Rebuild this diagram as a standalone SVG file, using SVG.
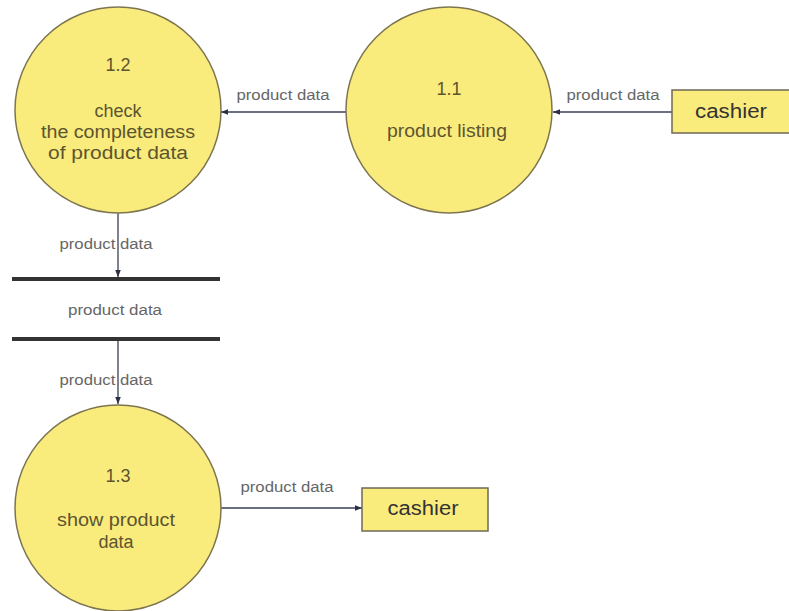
<svg xmlns="http://www.w3.org/2000/svg" width="789" height="611" viewBox="0 0 789 611">
<style>
.proc{fill:#faeb7d;stroke:#7d7550;stroke-width:1.5}
.ent{fill:#faeb7d;stroke:#6e6a55;stroke-width:1.5}
.nt{font-family:"Liberation Sans",Arial,sans-serif;font-size:18px;fill:#5c5530;text-anchor:middle}
.et{font-family:"Liberation Sans",Arial,sans-serif;font-size:20px;fill:#333;text-anchor:middle}
.lb{font-family:"Liberation Sans",Arial,sans-serif;font-size:14px;fill:#666;text-anchor:middle}
.cn{stroke:#3a3f55;stroke-width:1.3;fill:none}
.store{stroke:#333;stroke-width:4}
</style>
<defs>
<marker id="ah" viewBox="0 0 10 10" refX="10" refY="5" markerWidth="7" markerHeight="7" orient="auto" markerUnits="userSpaceOnUse">
<path d="M0,1 L10,5 L0,9 Z" fill="#2a2f45"/>
</marker>
</defs>
<rect width="789" height="611" fill="#fff"/>
<g id="connectors">
<line class="cn" x1="672" y1="112" x2="553" y2="112" marker-end="url(#ah)"/>
<text class="lb" x="613" y="100" textLength="93" lengthAdjust="spacingAndGlyphs">product data</text>
<line class="cn" x1="346" y1="112" x2="221" y2="112" marker-end="url(#ah)"/>
<text class="lb" x="283" y="100" textLength="93" lengthAdjust="spacingAndGlyphs">product data</text>
<line class="cn" x1="118" y1="213" x2="118" y2="277" marker-end="url(#ah)"/>
<text class="lb" x="106" y="249" textLength="93" lengthAdjust="spacingAndGlyphs">product data</text>
<line class="cn" x1="118" y1="341" x2="118" y2="404" marker-end="url(#ah)"/>
<text class="lb" x="106" y="385" textLength="93" lengthAdjust="spacingAndGlyphs">product data</text>
<line class="cn" x1="221" y1="508" x2="362" y2="508" marker-end="url(#ah)"/>
<text class="lb" x="287" y="492" textLength="93" lengthAdjust="spacingAndGlyphs">product data</text>
</g>
<g id="p1_2">
<circle class="proc" cx="118" cy="110" r="103"/>
<text class="nt" x="118" y="71">1.2</text>
<text class="nt" x="118" y="117">check</text>
<text class="nt" x="118" y="138" textLength="154" lengthAdjust="spacingAndGlyphs">the completeness</text>
<text class="nt" x="118" y="159" textLength="140" lengthAdjust="spacingAndGlyphs">of product data</text>
</g>
<g id="p1_1">
<circle class="proc" cx="449" cy="110" r="103"/>
<text class="nt" x="449" y="95">1.1</text>
<text class="nt" x="447" y="137" textLength="120" lengthAdjust="spacingAndGlyphs">product listing</text>
</g>
<g id="cashier1">
<rect class="ent" x="672" y="90" width="122" height="43"/>
<text class="et" x="731" y="118" textLength="72" lengthAdjust="spacingAndGlyphs">cashier</text>
</g>
<g id="store">
<line class="store" x1="12" y1="279" x2="220" y2="279"/>
<line class="store" x1="12" y1="339" x2="220" y2="339"/>
<text class="lb" x="115" y="315" textLength="94" lengthAdjust="spacingAndGlyphs">product data</text>
</g>
<g id="p1_3">
<circle class="proc" cx="118" cy="508" r="103"/>
<text class="nt" x="118" y="482">1.3</text>
<text class="nt" x="116" y="526" textLength="118" lengthAdjust="spacingAndGlyphs">show product</text>
<text class="nt" x="116" y="548">data</text>
</g>
<g id="cashier2">
<rect class="ent" x="362" y="488" width="126" height="43"/>
<text class="et" x="423" y="515" textLength="71" lengthAdjust="spacingAndGlyphs">cashier</text>
</g>
</svg>
